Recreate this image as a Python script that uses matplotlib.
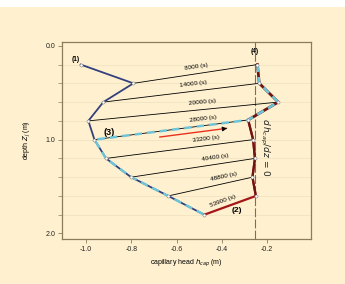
import numpy as np
import matplotlib
matplotlib.use("Agg")
import matplotlib.pyplot as plt

plt.rcParams['font.family'] = ['Liberation Sans', 'DejaVu Sans']
plt.rcParams['mathtext.fontset'] = 'dejavusans'

# depth of the nodes (m)
depth = [0.2, 0.4, 0.6, 0.8, 1.0, 1.2, 1.4, 1.6, 1.8]
# profile (1): capillary head at the start
h_left = [-1.024, -0.791, -0.924, -0.990, -0.963, -0.912, -0.801, -0.637, -0.478]
# profile (4): capillary head near dh/dz = 0
depth_right = [0.2, 0.4, 0.6, 0.79, 1.0, 1.2, 1.4, 1.6]
h_right = [-0.243, -0.235, -0.151, -0.284, -0.262, -0.254, -0.265, -0.250]
times = ["8000", "14000", "20000", "28000", "33200", "40400", "48800", "53900"]
label_x = [-0.515, -0.526, -0.485, -0.482, -0.470, -0.431, -0.391, -0.397]
h_zero = -0.255

bg = "#fff1cf"
navy = "#34407e"
maroon = "#6e1414"
red2 = "#a3161a"
cyan = "#6ec4d8"

fig = plt.figure(figsize=(3.45, 2.84), dpi=100, facecolor=bg)
fig.patches.append(plt.Rectangle((0, 0.975), 1, 0.025, transform=fig.transFigure,
                                 facecolor="white", edgecolor="none"))
ax = fig.add_axes([0.18, 0.158, 0.721, 0.694])
ax.set_facecolor(bg)
ax.set_xlim(-1.106, -0.007)
ax.set_ylim(2.06, -0.04)

for s in ax.spines.values():
    s.set_color("#8c7c5c")
    s.set_linewidth(0.9)

ax.set_yticks([0.0, 1.0, 2.0])
ax.set_yticks(np.arange(0, 2.01, 0.2), minor=True)
ax.set_xticks([-1.0, -0.8, -0.6, -0.4, -0.2])
ax.set_xticklabels(["-1.0", "-0.8", "-0.6", "-0.4", "-0.2"])
ax.set_yticklabels(["0.0", "1.0", "2.0"])
ax.tick_params(axis="both", labelsize=5, color="#8c7c5c", length=3, width=0.6,
               direction="out", pad=2, labelcolor="#222222")
ax.tick_params(axis="y", which="minor", length=3, width=0.5, color="#8c7c5c")
for d in np.arange(0.2, 2.0, 0.2):
    ax.axhline(d, color="#ece0c0", lw=0.5, zorder=0)

ax.set_xlabel("capillary head $h_{cap}$ (m)", fontsize=5, labelpad=3)
ax.set_ylabel("depth $Z_j$ (m)", fontsize=5, labelpad=9)

# vertical dashed line dh/dz = 0
ax.axvline(h_zero, color="#707070", lw=0.8, ls=(0, (8, 2)), zorder=1)

# isochrones
fig.canvas.draw()
for k in range(len(times)):
    x0, y0 = h_left[k + 1], depth[k + 1]
    x1, y1 = h_right[k], depth_right[k]
    if k < 7:
        ax.plot([x0, x1], [y0, y1], color="black", lw=0.6, zorder=2)
    p0 = ax.transData.transform((x0, y0))
    p1 = ax.transData.transform((x1, y1))
    ang = np.degrees(np.arctan2(p1[1] - p0[1], p1[0] - p0[0]))
    lx = label_x[k]
    ly = y0 + (y1 - y0) * (lx - x0) / (x1 - x0)
    ax.annotate(times[k] + " (s)", (lx, ly), xytext=(0, 5), textcoords="offset points",
                rotation=ang, rotation_mode="anchor", ha="center", va="center",
                fontsize=4.6, zorder=6)

# profile (1)
ax.plot(h_left, depth, color=navy, lw=1.3, zorder=3)
# profile (4), upper part
ax.plot(h_right[:4], depth_right[:4], color=maroon, lw=2.0, zorder=3)
# path (2)
ax.plot(h_right[3:] + [h_left[-1]], depth_right[3:] + [depth[-1]], color=red2, lw=1.6, zorder=3)
ax.plot(h_right[3:], depth_right[3:], color=maroon, lw=1.6, zorder=3)
# path (3)
cx = h_right[:4] + h_left[4:]
cy = depth_right[:4] + depth[4:]
ax.plot(cx, cy, color=cyan, lw=1.8, ls=(0, (3, 2)), zorder=4)

ax.plot(h_left, depth, "o", ms=2.2, mfc="white", mec="#808080", mew=0.4, zorder=5)
ax.plot(h_right, depth_right, "o", ms=2.2, mfc="white", mec="#808080", mew=0.4, zorder=5)

# arrow
ax.plot([-0.674, -0.38], [0.972, 0.88], color="#e8321e", lw=1.0, zorder=4)
ax.annotate("", xy=(-0.365, 0.876), xytext=(-0.40, 0.887),
            arrowprops=dict(arrowstyle="-|>", color="black", lw=0.6, mutation_scale=7), zorder=5)

ax.text(-1.044, 0.149, "(1)", fontsize=4.8, fontweight="bold", ha="center", va="center")
ax.text(-0.253, 0.06, "(4)", fontsize=4.8, fontweight="bold", ha="center", va="center")
ax.text(-0.897, 0.929, "(3)", fontsize=6.5, fontweight="bold", ha="center", va="center")
ax.text(-0.332, 1.759, "(2)", fontsize=6.0, fontweight="bold", ha="center", va="center")
ax.text(-0.21, 1.08, r"$d\,h_{cap}/dz\,=\,0$", fontsize=6.5, rotation=-90,
        ha="center", va="center", color="#222222")

fig.savefig("out.png", dpi=100, facecolor=bg)
